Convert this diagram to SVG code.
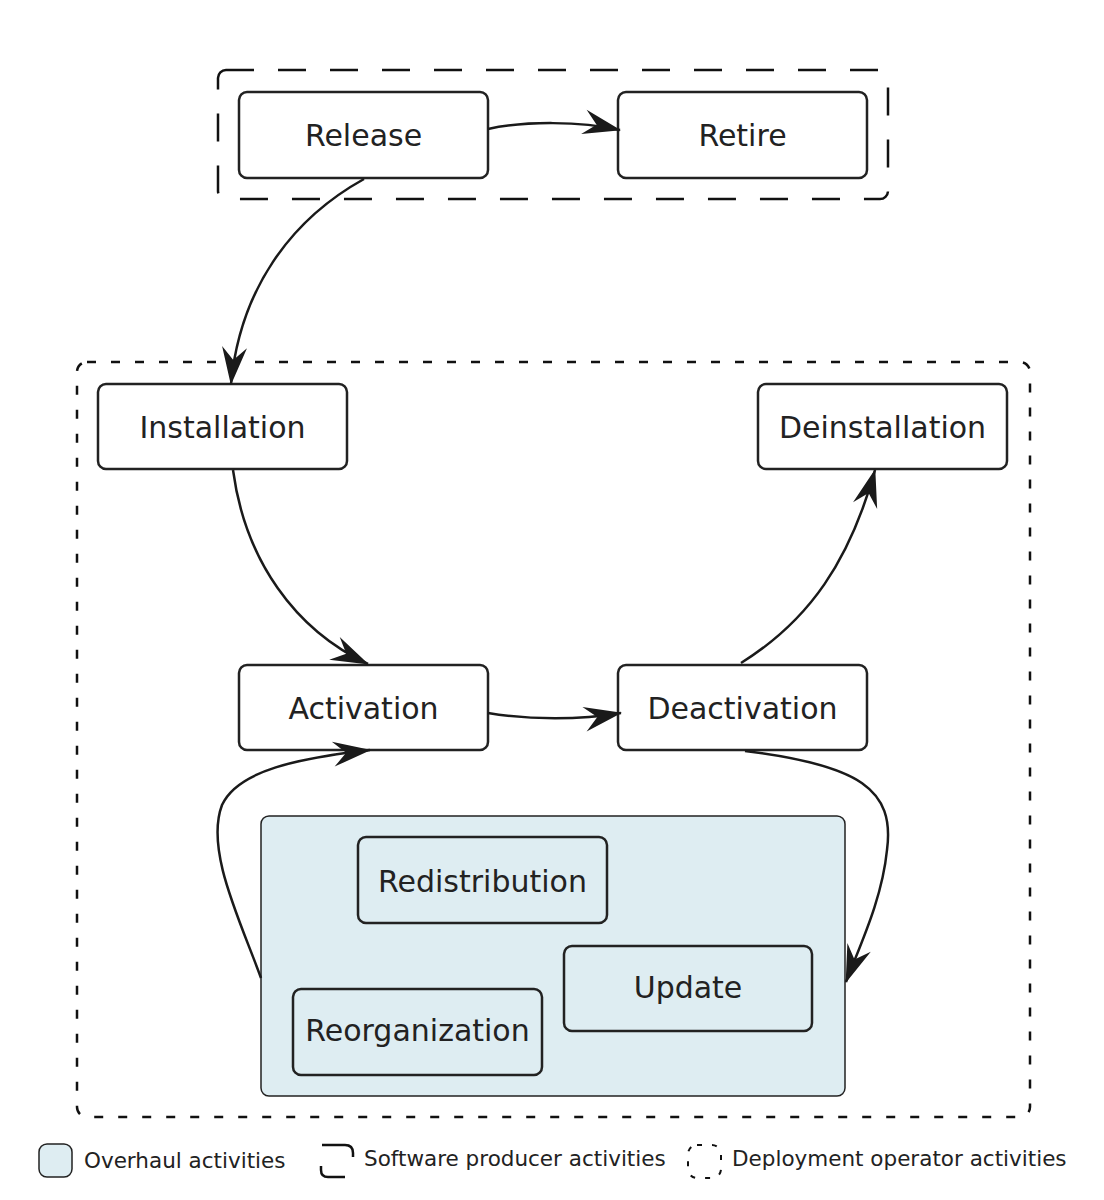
<svg xmlns="http://www.w3.org/2000/svg" width="1104" height="1200" viewBox="0 0 1104 1200">
<style>
.node{fill:#fff;stroke:#222;stroke-width:2.5}
.lbl{font-family:"DejaVu Sans",sans-serif;font-size:30px;fill:#222;text-anchor:middle}
.leg{font-family:"DejaVu Sans",sans-serif;font-size:21.5px;fill:#222}
.conn{fill:none;stroke:#1a1a1a;stroke-width:2.5}
.ov{fill:#deedf2;stroke:#222;stroke-width:2.5}
</style>
<defs>
<marker id="arr" markerUnits="userSpaceOnUse" markerWidth="40" markerHeight="26" refX="37" refY="12.5" orient="auto" overflow="visible">
<path d="M0,0 L38,12.5 L0,25 L13,12.5 Z" fill="#1a1a1a"/>
</marker>
</defs>
<rect width="1104" height="1200" fill="#fff"/>
<g id="producer-group">
<rect x="218" y="70" width="670" height="129" rx="8" fill="none" stroke="#111" stroke-width="2.5" stroke-dasharray="28 24"/>
</g>
<g id="operator-group">
<rect x="77" y="362" width="953" height="755" rx="10" fill="none" stroke="#111" stroke-width="2.5" stroke-dasharray="9 15"/>
</g>
<g id="overhaul">
<rect x="261" y="816" width="584" height="280" rx="8" fill="#deedf2" stroke="#222" stroke-width="1.5"/>
</g>
<g id="release"><rect class="node" x="239" y="92" width="249" height="86" rx="8"/><text class="lbl" x="363.5" y="146">Release</text></g>
<g id="retire"><rect class="node" x="618" y="92" width="249" height="86" rx="8"/><text class="lbl" x="742.5" y="146">Retire</text></g>
<g id="installation"><rect class="node" x="98" y="384" width="249" height="85" rx="8"/><text class="lbl" x="222.5" y="438">Installation</text></g>
<g id="deinstallation"><rect class="node" x="758" y="384" width="249" height="85" rx="8"/><text class="lbl" x="882.5" y="438">Deinstallation</text></g>
<g id="activation"><rect class="node" x="239" y="665" width="249" height="85" rx="8"/><text class="lbl" x="363.5" y="719">Activation</text></g>
<g id="deactivation"><rect class="node" x="618" y="665" width="249" height="85" rx="8"/><text class="lbl" x="742.5" y="719">Deactivation</text></g>
<g id="redistribution"><rect class="ov" x="358" y="837" width="249" height="86" rx="8" stroke-width="3"/><text class="lbl" x="482.5" y="892">Redistribution</text></g>
<g id="update"><rect class="ov" x="564" y="946" width="248" height="85" rx="8"/><text class="lbl" x="688" y="998">Update</text></g>
<g id="reorganization"><rect class="ov" x="293" y="989" width="249" height="86" rx="8"/><text class="lbl" x="417.5" y="1041">Reorganization</text></g>
<g id="connectors">
<path class="conn" marker-end="url(#arr)" d="M488,129 C525,121 580,121 620,130"/>
<path class="conn" marker-end="url(#arr)" d="M364,179 C290,220 240,290 231,384"/>
<path class="conn" marker-end="url(#arr)" d="M233,470 C245,560 295,630 368,664"/>
<path class="conn" marker-end="url(#arr)" d="M488,713 C530,720 580,720 621,713"/>
<path class="conn" marker-end="url(#arr)" d="M741,663 C810,620 850,560 875,470"/>
<path class="conn" marker-end="url(#arr)" d="M745,751 C860,765 895,790 887,850 C882,900 860,945 846,982"/>
<path class="conn" marker-end="url(#arr)" d="M261,978 C240,920 205,850 222,805 C238,770 300,758 370,750"/>
</g>
<g id="legend">
<rect x="39" y="1144" width="33" height="33" rx="8" fill="#deedf2" stroke="#222" stroke-width="1.5"/>
<text class="leg" x="84" y="1168">Overhaul activities</text>
<path d="M322,1145 L345,1145 Q353,1145 353,1153 L353,1157" fill="none" stroke="#111" stroke-width="2.5"/>
<path d="M321,1166 L321,1170 Q321,1177 328,1177 L345,1177" fill="none" stroke="#111" stroke-width="2.5"/>
<text class="leg" x="364" y="1166">Software producer activities</text>
<rect x="688" y="1145" width="33" height="33" rx="9" fill="none" stroke="#111" stroke-width="2" stroke-dasharray="5 10"/>
<text class="leg" x="732" y="1166">Deployment operator activities</text>
</g>
</svg>
